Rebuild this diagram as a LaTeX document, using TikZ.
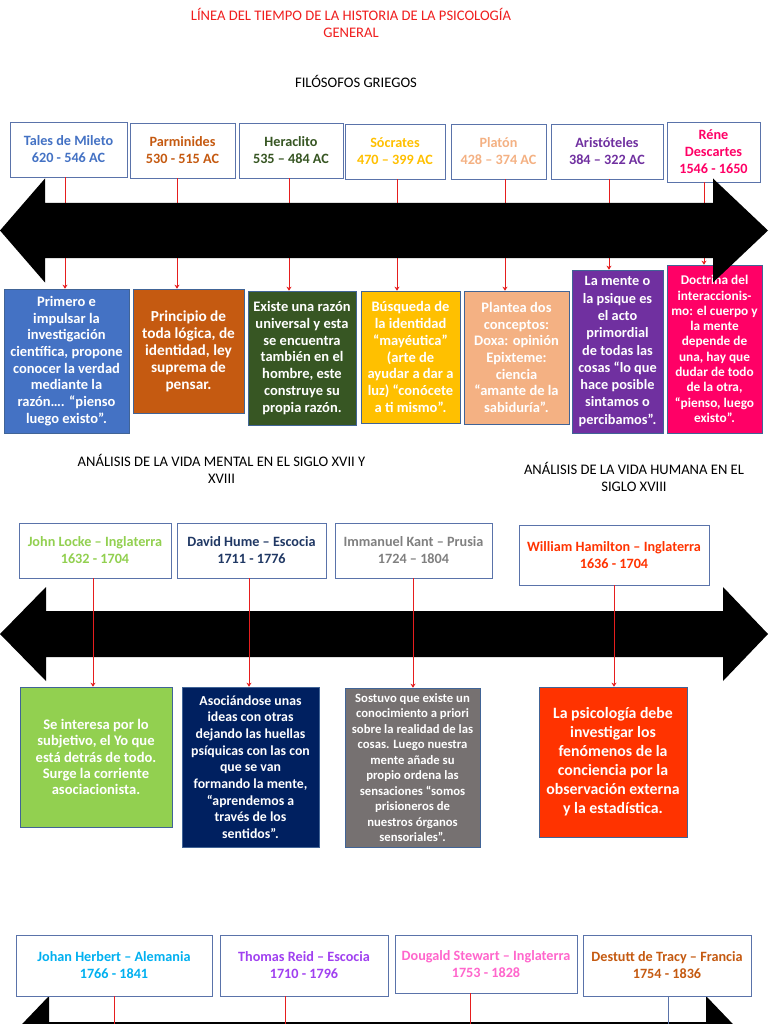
\documentclass[tikz,border=0pt]{standalone}
\usepackage{fontspec}
\setmainfont{Carlito}
\usetikzlibrary{arrows.meta}
\definecolor{bordc}{RGB}{90,115,170}
\definecolor{descb}{RGB}{65,100,150}
\definecolor{conred}{RGB}{230,30,30}
\definecolor{ttl}{RGB}{240,30,30}
\definecolor{cTales}{RGB}{68,114,196}
\definecolor{cParm}{RGB}{197,90,17}
\definecolor{cHera}{RGB}{55,86,35}
\definecolor{cSocr}{RGB}{255,192,0}
\definecolor{cPlat}{RGB}{244,177,131}
\definecolor{cAris}{RGB}{112,48,160}
\definecolor{cDesc}{RGB}{255,0,102}
\definecolor{cLocke}{RGB}{146,208,80}
\definecolor{cHume}{RGB}{0,32,96}
\definecolor{cHumeT}{RGB}{32,56,100}
\definecolor{cKant}{RGB}{118,113,113}
\definecolor{cKantT}{RGB}{128,128,128}
\definecolor{cHam}{RGB}{255,51,0}
\definecolor{cHerb}{RGB}{0,176,240}
\definecolor{cReid}{RGB}{160,64,240}
\definecolor{cStew}{RGB}{255,102,204}
\definecolor{cTracy}{RGB}{197,90,17}
\begin{document}
\begin{tikzpicture}[x=1pt,y=-1pt,
  hdr/.style={draw=bordc, line width=0.9pt, fill=white, align=center, inner sep=0pt,
    font=\bfseries\fontsize{14.2}{17}\selectfont},
  desc/.style={draw=descb, line width=0.6pt, align=center, inner sep=0pt, text=white,
    font=\bfseries\fontsize{14.5}{16.7}\selectfont},
  heading/.style={align=center, inner sep=0pt, font=\fontsize{14.6}{17}\selectfont},
  con/.style={draw=conred, line width=0.7pt, -{Stealth[length=4pt,width=5pt]}},
  plain/.style={draw=conred, line width=0.7pt},
  bigarrow/.style={fill=black}]
\clip (0,0) rectangle (768,1024);
\fill[white] (0,0) rectangle (768,1024);

% headings
\node[heading, text=ttl] (title) at (351,22.5) {LÍNEA DEL TIEMPO DE LA HISTORIA DE LA PSICOLOGÍA\\GENERAL};
\node[heading] (greek) at (356,81) {FILÓSOFOS GRIEGOS};
\node[heading] (mental) at (221.5,468.5) {ANÁLISIS DE LA VIDA MENTAL EN EL SIGLO XVII Y\\XVIII};
\node[heading] (humana) at (634,476.5) {ANÁLISIS DE LA VIDA HUMANA EN EL\\SIGLO XVIII};

% ---------- Section 1 ----------
\node[hdr, minimum width=117, minimum height=55, text=cTales] (t1) at (68.5,149.5) {Tales de Mileto\\620 - 546 AC};
\node[hdr, minimum width=105, minimum height=55, text=cParm] (t2) at (182.5,150.5) {Parminides\\530 - 515 AC};
\node[hdr, minimum width=104, minimum height=55, text=cHera] (t3) at (291,150.5) {Heraclito\\535 – 484 AC};
\node[hdr, minimum width=100, minimum height=55, text=cSocr] (t4) at (395,151.5) {Sócrates\\470 – 399 AC};
\node[hdr, minimum width=95, minimum height=55, text=cPlat] (t5) at (498.5,151.5) {Platón\\428 – 374 AC};
\node[hdr, minimum width=112, minimum height=55, text=cAris] (t6) at (607,151.5) {Aristóteles\\384 – 322 AC};
\node[hdr, minimum width=93, minimum height=60, text=cDesc] (t7) at (713.5,152) {Réne\\Descartes\\1546 - 1650};

\node[desc, fill=cTales, minimum width=125, minimum height=144] (d1) at (66.5,361)
  {Primero e\\impulsar la\\investigación\\científica, propone\\conocer la verdad\\mediante la\\razón…. “pienso\\luego existo”.};
\node[desc, fill=cParm, minimum width=111, minimum height=124, font=\bfseries\fontsize{15.3}{17}\selectfont] (d2) at (188.5,351)
  {Principio de\\toda lógica, de\\identidad, ley\\suprema de\\pensar.};
\node[desc, fill=cHera, minimum width=108, minimum height=134] (d3) at (302,358)
  {Existe una razón\\universal y esta\\se encuentra\\también en el\\hombre, este\\construye su\\propia razón.};
\node[desc, fill=cSocr, minimum width=99, minimum height=132] (d4) at (410.5,357)
  {Búsqueda de\\la identidad\\“mayéutica”\\(arte de\\ayudar a dar a\\luz) “conócete\\a ti mismo”.};
\node[desc, fill=cPlat, minimum width=105, minimum height=133] (d5) at (516.5,357.5)
  {Plantea dos\\conceptos:\\Doxa: opinión\\Epixteme:\\ciencia\\“amante de la\\sabiduría”.};
\node[desc, fill=cAris, minimum width=91, minimum height=163, font=\bfseries\fontsize{14.3}{17.3}\selectfont] (d6) at (617.5,351.5)
  {La mente o\\la psique es\\el acto\\primordial\\de todas las\\cosas “lo que\\hace posible\\sintamos o\\percibamos”.};
\node[desc, fill=cDesc, minimum width=95, minimum height=168, font=\bfseries\fontsize{13.3}{15.3}\selectfont] (d7) at (714.5,349)
  {Doctrina del\\interaccionis-\\mo: el cuerpo y\\la mente\\depende de\\una, hay que\\dudar de todo\\de la otra,\\“pienso, luego\\existo”.};

\draw[con] (t1.south -| 65,0) -- (d1.north -| 65,0);
\draw[con] (t2.south -| 177,0) -- (d2.north -| 177,0);
\draw[con] (t3.south -| 289,0) -- (d3.north -| 289,0);
\draw[con] (t4.south -| 397,0) -- (d4.north -| 397,0);
\draw[con] (t5.south -| 505,0) -- (d5.north -| 505,0);
\draw[con] (t6.south -| 609,0) -- (d6.north -| 609,0);
\draw[con] (t7.south -| 704,0) -- (d7.north -| 704,0);

\fill[bigarrow] (0,230.5) -- (45,178.5) -- (45,203) -- (713,203) -- (713,178.5) -- (768,230.5)
  -- (713,282.5) -- (713,258) -- (45,258) -- (45,282.5) -- cycle;

% ---------- Section 2 ----------
\fill[bigarrow] (0,634) -- (46,587) -- (46,611) -- (723,611) -- (723,587) -- (768,634)
  -- (723,681) -- (723,657) -- (46,657) -- (46,681) -- cycle;

\node[hdr, minimum width=152, minimum height=55, text=cLocke] (h1) at (95,550.5) {John Locke – Inglaterra\\1632 - 1704};
\node[hdr, minimum width=149, minimum height=55, text=cHumeT] (h2) at (251.5,550.5) {David Hume – Escocia\\1711 - 1776};
\node[hdr, minimum width=157, minimum height=55, text=cKantT] (h3) at (413.5,550.5) {Immanuel Kant – Prusia\\1724 – 1804};
\node[hdr, minimum width=190, minimum height=60, text=cHam] (h4) at (614,555) {William Hamilton – Inglaterra\\1636 - 1704};

\node[desc, fill=cLocke, minimum width=152, minimum height=140, font=\bfseries\fontsize{14.6}{16.2}\selectfont] (e1) at (96,757)
  {Se interesa por lo\\subjetivo, el Yo que\\está detrás de todo.\\Surge la corriente\\asociacionista.};
\node[desc, fill=cHume, minimum width=137, minimum height=160, font=\bfseries\fontsize{13.8}{16.7}\selectfont] (e2) at (250.5,767)
  {Asociándose unas\\ideas con otras\\dejando las huellas\\psíquicas con las con\\que se van\\formando la mente,\\“aprendemos a\\través de los\\sentidos”.};
\node[desc, fill=cKant, minimum width=135, minimum height=159, font=\bfseries\fontsize{12.7}{15.5}\selectfont] (e3) at (412.5,767.5)
  {Sostuvo que existe un\\conocimiento a priori\\sobre la realidad de las\\cosas. Luego nuestra\\mente añade su\\propio ordena las\\sensaciones “somos\\prisioneros de\\nuestros órganos\\sensoriales”.};
\node[desc, fill=cHam, minimum width=148, minimum height=150, font=\bfseries\fontsize{15.8}{19}\selectfont] (e4) at (613,762)
  {La psicología debe\\investigar los\\fenómenos de la\\conciencia por la\\observación externa\\y la estadística.};

\draw[con] (h1.south -| 93,0) -- (e1.north -| 93,0);
\draw[con] (h2.south -| 249,0) -- (e2.north -| 249,0);
\draw[con] (h3.south -| 413,0) -- (e3.north -| 413,0);
\draw[con] (h4.south -| 614,0) -- (e4.north -| 614,0);

% ---------- Section 3 ----------
\fill[bigarrow] (2,1045) -- (49,996) -- (49,1022) -- (706,1022) -- (706,996) -- (753,1045)
  -- (706,1094) -- (706,1068) -- (49,1068) -- (49,1094) -- cycle;

\node[hdr, minimum width=196, minimum height=61, text=cHerb] (r1) at (114,965.5) {Johan Herbert – Alemania\\1766 - 1841};
\node[hdr, minimum width=168, minimum height=61, text=cReid] (r2) at (304,965.5) {Thomas Reid – Escocia\\1710 - 1796};
\node[hdr, minimum width=182, minimum height=58, text=cStew] (r3) at (486,964) {Dougald Stewart – Inglaterra\\1753 - 1828};
\node[hdr, minimum width=168, minimum height=61, text=cTracy] (r4) at (667,965.5) {Destutt de Tracy – Francia\\1754 - 1836};

\coordinate (endr1) at (114,1030);
\coordinate (endr2) at (285,1030);
\coordinate (endr3) at (470,1030);
\coordinate (endr4) at (668,1030);
\draw[plain] (r1.south -| endr1) -- (endr1);
\draw[plain] (r2.south -| endr2) -- (endr2);
\draw[plain] (r3.south -| endr3) -- (endr3);
\draw[plain, draw=bordc] (r4.south -| endr4) -- (endr4);
\end{tikzpicture}
\end{document}
